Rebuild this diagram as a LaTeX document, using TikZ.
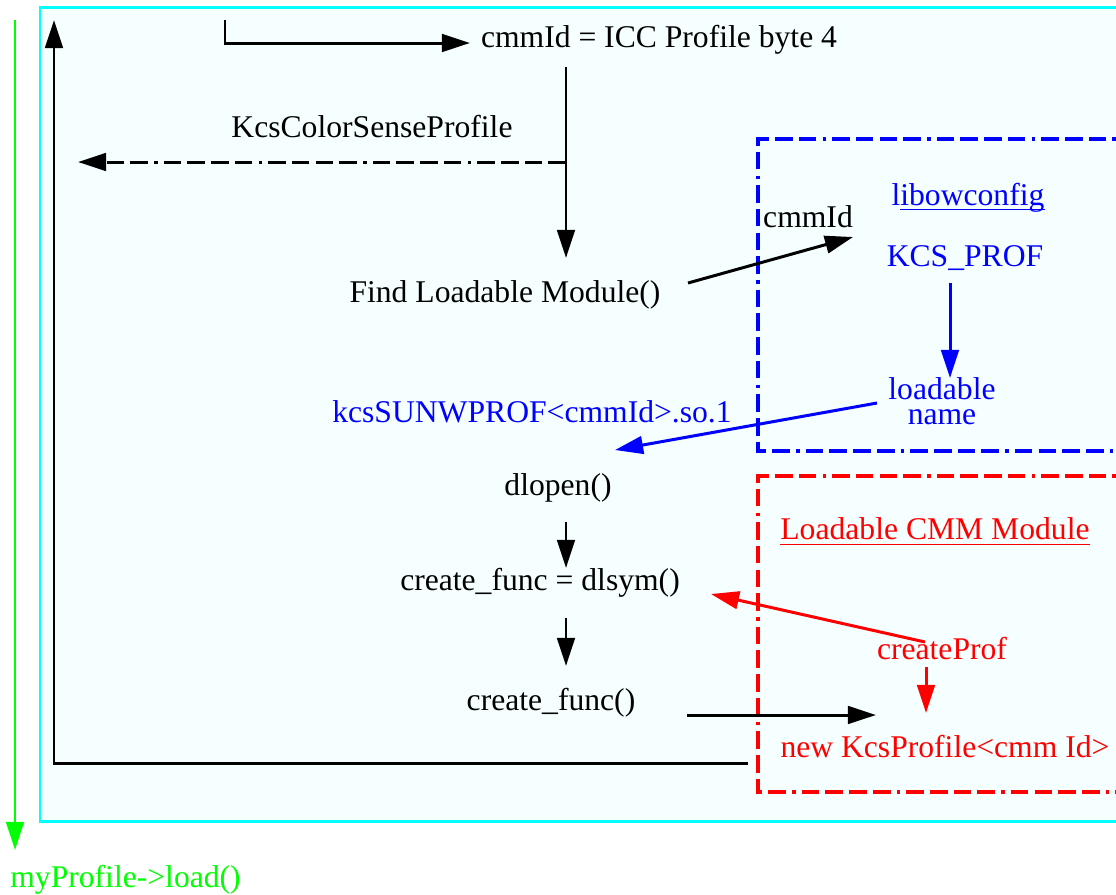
\documentclass[tikz,border=0pt]{standalone}
\usepackage{fontspec}
\setmainfont{Liberation Serif}
\usetikzlibrary{arrows.meta}
\definecolor{panelfill}{RGB}{245,255,255}
\definecolor{panelline}{RGB}{0,255,255}
\definecolor{loadgreen}{RGB}{0,255,0}
\tikzset{
  arr/.style={-{Triangle[length=16pt,width=10pt]},line width=1.7pt},
  lbl/.style={inner sep=0pt,font=\fontsize{18}{14.5}\selectfont},
  dashdot/.style={dash pattern=on 10pt off 3.5pt on 10pt off 3.5pt on 10pt off 3.5pt on 10pt off 3.5pt on 2pt off 3.5pt},
  uline/.style={line width=0.8pt},
}
\begin{document}
\begin{tikzpicture}[x=0.02cm,y=-0.02cm]
\useasboundingbox (0,0) rectangle (1116,894);
% outer panel
\filldraw[fill=panelfill,draw=panelline,line width=1.7pt](40,7) rectangle (1130,821);
% library boxes
\draw[blue,line width=1.8pt,dashdot](1130,139)--(758,139)--(758,451)--(1130,451);
\draw[red,line width=1.8pt,dashdot](1130,476)--(758,476)--(758,792)--(1130,792);
% texts
\node[lbl] (cmmid) at (659,40) {cmmId = ICC Profile byte 4};
\node[lbl] (kcscs) at (372,127) {KcsColorSenseProfile};
\node[lbl] (findmod) at (505,295) {Find Loadable Module()};
\node[lbl] (cmmidlbl) at (808,217) {cmmId};
\node[lbl,blue] (libow) at (968,198) {libowconfig};
\node[lbl,blue] (kcsprof) at (965,258) {KCS\_PROF};
\node[lbl,blue,align=center] (ldname) at (942,401) {loadable\\name};
\node[lbl,blue] (soname) at (532,412) {kcsSUNWPROF<cmmId>.so.1};
\node[lbl] (dlopen) at (558,488) {dlopen()};
\node[lbl] (dlsym) at (540,583) {create\_func = dlsym()};
\node[lbl] (cfunc) at (551,703) {create\_func()};
\node[lbl,red] (cmmmod) at (935,529) {Loadable CMM Module};
\node[lbl,red] (cprof) at (942,649) {createProf};
\node[lbl,red] (newprof) at (945,747) {new KcsProfile<cmm Id>};
\node[lbl,loadgreen,anchor=west] (load) at (10,880) {myProfile->load()};
% underlines
\draw[uline,blue] ([xshift=5pt,yshift=-2pt]libow.base west) -- ([yshift=-2pt]libow.base east);
\draw[uline,red] ([yshift=-2.5pt]cmmmod.base west) -- ([yshift=-2.5pt]cmmmod.base east);
% connector ends
\coordinate (topstart) at (225,20);
\coordinate (cmmin) at (470,43);
\coordinate (cmmout) at (566,67);
\coordinate (findin) at (566,258);
\coordinate (kcsfrom) at (566,162);
\coordinate (kcsto) at (78,162);
\coordinate (findout) at (688,283);
\coordinate (libin) at (853,237);
\coordinate (kcsout) at (950,283);
\coordinate (namein) at (950,378);
\coordinate (nameout) at (877,403);
\coordinate (openin) at (615,450);
\coordinate (openout) at (566,522);
\coordinate (symin) at (566,568);
\coordinate (symout) at (566,618);
\coordinate (funcin) at (566,666);
\coordinate (funcout) at (687,715);
\coordinate (newin) at (876,715);
\coordinate (cprofout) at (925,642);
\coordinate (symback) at (711,594);
\coordinate (cprofdown) at (926,667);
\coordinate (newtop) at (926,713);
\coordinate (retfrom) at (748,763);
\coordinate (rettop) at (54,20);
\coordinate (loadfrom) at (15,20);
\coordinate (loadto) at (15,850);
% black flow
\draw[arr] (topstart) |- (cmmin);
\draw[arr] (cmmout) -- (findin);
\draw[arr,dashdot] (kcsfrom) -- (kcsto);
\draw[arr] (findout) -- (libin);
\draw[arr] (openout) -- (symin);
\draw[arr] (symout) -- (funcin);
\draw[arr] (funcout) -- (newin);
\draw[arr] (retfrom) -| (rettop);
% blue flow
\draw[arr,blue] (kcsout) -- (namein);
\draw[arr,blue] (nameout) -- (openin);
% red flow
\draw[arr,red] (cprofout) -- (symback);
\draw[arr,red] (cprofdown) -- (newtop);
% result
\draw[arr,loadgreen] (loadfrom) -- (loadto);
\end{tikzpicture}
\end{document}
